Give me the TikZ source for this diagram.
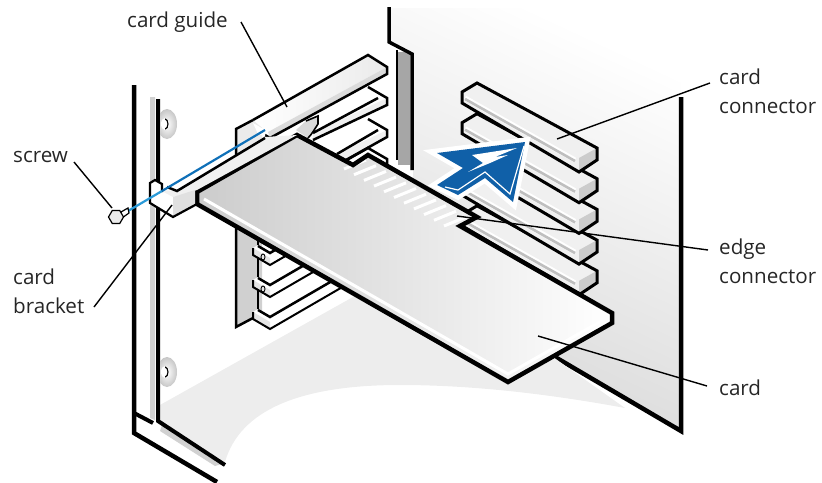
\documentclass[tikz,border=0pt]{standalone}
\usepackage{fontspec}
\setmainfont{Open Sans}
\usepackage{xcolor}
\usetikzlibrary{calc, shapes.geometric}
\definecolor{bluearrow}{HTML}{1060A8}
\definecolor{bluerod}{HTML}{0F70B8}
\definecolor{bluelight}{HTML}{2A9AD8}
\definecolor{floorgray}{HTML}{EDEDED}
\definecolor{wallgray}{HTML}{D8D8D8}
\definecolor{platefill}{HTML}{D0D0D0}
\tikzset{
	outline/.style={line width=#1, line join=miter, line cap=butt},
	outline/.default=3.5pt,
	leader/.style={line width=1.4pt, black},
	callout/.style={font=\fontsize{20.6}{29}\selectfont, text=black!85, inner sep=0pt, anchor=base west, align=left},
}

\begin{document}
\begin{tikzpicture}[x=1pt, y=-1pt]
	\useasboundingbox (0,0) rectangle (822,482);
	
	% Wall behind the slots
	\shade[top color=white, middle color=black!5, bottom color=wallgray, shading angle=-25]
	(390,8) -- (681,8) -- (681,431) -- (555,357) -- (413,270) -- (413,53) -- (390,42) -- cycle;
	\fill[black!35] (398,52) rectangle (410,165);
	\draw[outline] (389,7) -- (389,42) -- (412,54) -- (412,170);
	\draw[outline=2.5pt] (397,50) -- (397,160);
	\draw[outline=4.5pt] (681,97) -- (681,431) -- (555,357);
	
	% Shadow on the floor
	\fill[floorgray] (160,405) -- (353,297) -- (612,320) -- (553,357) -- (625,408)
	.. controls (560,396) and (480,385) .. (400,385)
	.. controls (300,385) and (240,410) .. (225,462) -- (158,421) -- cycle;
	
	% Chassis frame
	\fill[black!18] (150,97) -- (155,97) -- (155,420) -- (150,418) -- cycle;
	\fill[black!18] (162,425) -- (222,464) -- (215,466) -- (160,431) -- cycle;
	\draw[outline=4.5pt] (134,85) -- (134,433) -- (217,482);
	\draw[outline=4pt] (134,413) -- (153,423);
	\draw[outline=4pt] (158,99) -- (158,421) -- (225,465);
	
	% Washers
	\foreach \wy in {124, 372}{
		\begin{scope}
			\clip (160,\wy-20) rectangle (190,\wy+20);
			\shade[inner color=white, outer color=black!22] (167,\wy) ellipse (10 and 15);
			\fill[white] (165,\wy) ellipse (4 and 6);
			\begin{scope}
				\clip (165,\wy-8) rectangle (172,\wy+8);
				\draw[line width=1.2pt] (165,\wy) ellipse (3 and 5);
			\end{scope}
		\end{scope}
	}
	
	% Back plate
	\fill[platefill] (236,200) -- (262,200) -- (262,312) -- (236,327) -- cycle;
	\fill[black!8] (236,128) -- (262,116) -- (262,150) -- (236,165) -- cycle;
	\draw[outline=2.5pt] (253,120) -- (236,129) -- (236,327) -- (253,318);
	\draw[outline=2pt] (258,240) -- (258,312);
	
	% Lower fingers
	\foreach \fy/\fx in {248/287, 280/315, 312/342}{
		\fill[white] (253,\fy) -- (253,\fy+7) -- (270,\fy+17) -- (\fx,\fy+17-0.58*\fx+156.6) -- (\fx,\fy-4-0.58*\fx+156.6) -- (270,\fy+4) -- (258,\fy-3) -- cycle;
		\fill[black!10] (253,\fy) -- (253,\fy+7) -- (270,\fy+17) -- (270,\fy+10) -- cycle;
		\draw[outline=2pt] (253,\fy) -- (253,\fy+7) -- (270,\fy+17) -- (\fx,\fy+17-0.58*\fx+156.6);
		\draw[outline=2.5pt] (258,\fy-2) -- (270,\fy+5) -- ($(\fx,\fy+5-0.58*\fx+156.6)+(-8,4.6)$);
	}
	\draw[line width=.9pt] (263,257) ellipse (2 and 3);
	\draw[line width=.9pt] (263,289) ellipse (2 and 3);
	
	% Upper fingers
	\foreach \fy/\fl/\fb/\ft in {87/313/140/133, 119/337/165/154}{
		\fill[black!6] (\fl,\fb) -- (387,\fy+18) -- (387,\fy+11) -- (\fl,\ft) -- cycle;
		\draw[outline=2.5pt] (\fl,\fb) -- (387,\fy+18) -- (387,\fy+11) -- (368,\fy);
		\draw[outline=2.5pt] (378,\fy+11) -- (\fl,\ft);
	}
	\draw[outline=2.5pt] (345,161) -- (368,148) -- (387,159) -- (387,170);
	
	% Tab under the guide
	\fill[black!15] (307,120) -- (318,116) -- (318,124) .. controls (314,130) and (312,134) .. (308,138) -- (296,130) -- cycle;
	\draw[outline=1.6pt] (306,121) -- (318,116) -- (318,124) .. controls (314,130) and (312,134) .. (308,138);
	
	% Card guide
	\shade[left color=white, right color=black!8] (253,120) -- (368,55) -- (387,67) -- (268,132) -- (265,130) -- cycle;
	\fill[black!14] (268,132) -- (387,67) -- (387,74) -- (270,138) -- cycle;
	\draw[outline=2.5pt] (253,120) -- (368,55) -- (387,67) -- (387,74) -- (270,138) -- (265,135);
	\fill[white] (253,123) -- (265,130) -- (265,136) -- (258,134) -- cycle;
	
	% Card connectors
	\foreach \cy in {4,3,2,1,0}{
		\begin{scope}[yshift={-\cy*30.7pt}]
			\coordinate (slotleft) at (465,98);
			\coordinate (slotright) at (575,160);
			\fill[black!6] (477,83) -- (462,92) -- (462,103) -- (579,172) -- (597,160) -- (597,148) -- cycle;
			\fill[black!20] (579,158) -- (597,148) -- (597,160) -- (579,172) -- cycle;
			\draw[white, line width=5pt] (slotleft) -- (slotright);
			\draw[black!25, line width=2.6pt] ($(slotleft)+(0,1)$) -- ($(slotright)+(0,1)$);
			\draw[outline=3pt] (477,83) -- (462,92) -- (462,103) -- (579,172) -- (597,160) -- (597,148) -- cycle;
		\end{scope}
	}
	
	% Arrow
	\path[fill=white, draw=white, line width=9pt, line join=miter]
	(525,142) -- (437,153) -- (463,168) -- (437,185) -- (458,195) -- (485,178) -- (513,202) -- cycle;
	\fill[bluearrow] (525,142) -- (437,153) -- (463,168) -- (437,185) -- (458,195) -- (485,178) -- (513,202) -- cycle;
	\draw[white, line width=1.2pt] (445,187) -- (458,190) -- (485,172) -- (510,194) -- (524,146);
	\fill[white] (472,155) -- (517,148) -- (495,157) -- (508,155) -- (490,163) -- (468,172) -- (483,163) -- cycle;
	
	% Card
	\shade[left color=black!20, middle color=black!9, right color=white]
	(197,192) -- (297,135) -- (353,165) -- (368,155) -- (477,217) -- (460,226) -- (612,313) -- (612,323) -- (508,382) -- (197,204) -- cycle;
	\foreach \st in {0,1,...,10}{
		\draw[white, line width=3pt] ($(366,160)+\st*(10,5.7)$) -- ++(-22,9);
	}
	\draw[white, line width=3pt] (204,199) -- (508,374) -- (603,320);
	\draw[outline=4.5pt, line join=miter] (197,204) -- (197,192) -- (297,135) -- (353,165) -- (368,155) -- (477,217) -- (460,226) -- (612,313) -- (612,323) -- (508,382) -- cycle;
	
	% Card bracket
	\fill[white] (150,183) -- (155,180) -- (162,184) -- (172,192) -- (172,215) -- (150,203) -- cycle;
	\fill[black!6] (160,190) -- (177,191) -- (265,137) -- (297,135) -- (197,190) -- (173,197) -- cycle;
	\fill[black!12] (173,197) -- (195,190) -- (195,204) -- (173,217) -- cycle;
	\draw[outline=2.2pt] (162,192) -- (162,184) -- (155,180) -- (150,183) -- (150,203) -- (173,217) -- (197,204);
	\draw[outline=2.5pt] (167,187) -- (177,191) -- (265,138);
	
	% Rod and screw
	\draw[bluelight, line width=2.2pt] (128,211) -- (162,191);
	\draw[bluerod, line width=2.2pt] (162,191) -- (265,130);
	\draw[line width=1.2pt, fill=white] (121,212) -- (128,208) -- (129,213) -- (122,218) -- cycle;
	\node[draw, fill=black!8, regular polygon, regular polygon sides=6, inner sep=0pt, line width=1.2pt, minimum size=15pt] (screwhead) at (116,217) {};
	
	% Labels
	\node[callout] (lblguide) at (127,27) {card guide};
	\node[callout] (lblscrew) at (13,162) {screw};
	\node[callout] (lblbracket) at (13,313) {card\\bracket};
	\node[callout] (lblconnector) at (719,113) {card\\connector};
	\node[callout] (lbledge) at (719,283) {edge\\connector};
	\node[callout] (lblcard) at (719,395) {card};
	
	% Leader lines
	\coordinate (guidefrom) at (241,22);
	\coordinate (guideto) at (287,107);
	\coordinate (screwfrom) at (74,162);
	\coordinate (screwto) at (112,208);
	\coordinate (bracketfrom) at (94,307);
	\coordinate (bracketto) at (172,205);
	\coordinate (connectorfrom) at (710,83);
	\coordinate (connectorto) at (557,139);
	\coordinate (edgefrom) at (708,250);
	\coordinate (edgeto) at (457,216);
	\coordinate (cardfrom) at (707,386);
	\coordinate (cardto) at (538,336);
	\draw[leader] (guidefrom) -- (guideto);
	\draw[leader] (screwfrom) -- (screwto);
	\draw[leader] (bracketfrom) -- (bracketto);
	\draw[leader] (connectorfrom) -- (connectorto);
	\draw[leader] (edgefrom) -- (edgeto);
	\draw[leader] (cardfrom) -- (cardto);
\end{tikzpicture}
\end{document}
